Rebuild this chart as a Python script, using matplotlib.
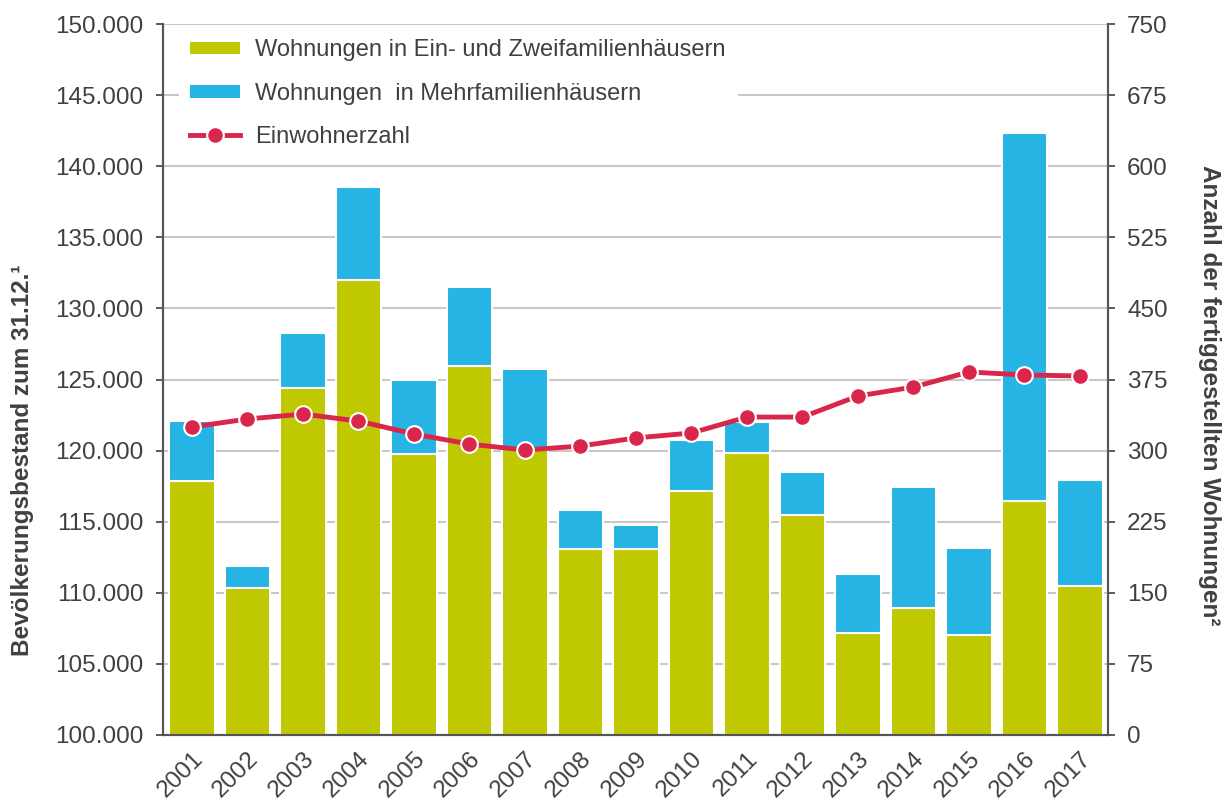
import matplotlib.pyplot as plt
import numpy as np
from matplotlib.lines import Line2D
from matplotlib.patches import Patch

years = [str(y) for y in range(2001, 2018)]
# completed flats in one- and two-family houses (right axis)
ein_zwei = [268, 155, 366, 480, 296, 389, 303, 196, 196, 257, 298, 232, 108, 134, 105, 247, 157]
# completed flats in multi-family houses (stacked on top)
mehr = [63, 23, 58, 98, 78, 84, 83, 41, 26, 54, 32, 45, 62, 128, 92, 388, 112]
# population on 31.12. (left axis)
einwohner = [121660, 122220, 122570, 122080, 121170, 120460, 120040, 120320,
             120890, 121240, 122360, 122360, 123840, 124470, 125530, 125320, 125250]

GREEN = '#BFC800'
BLUE = '#25B4E3'
RED = '#D9264A'
TXT = '#404040'
GRID = '#C8C8C8'

plt.rcParams['font.family'] = ['Liberation Sans', 'DejaVu Sans']
plt.rcParams['text.color'] = TXT
plt.rcParams['axes.labelcolor'] = TXT
plt.rcParams['xtick.color'] = TXT
plt.rcParams['ytick.color'] = TXT

fig = plt.figure(figsize=(12.27, 8.01), dpi=100)
ax = fig.add_axes([0.1328, 0.0824, 0.770, 0.8876])
ax2 = ax.twinx()
x = np.arange(len(years))

# bars on host axis (right-hand scale)
ax.bar(x, ein_zwei, width=0.82, color=GREEN, edgecolor='white', linewidth=1.5, zorder=2)
ax.bar(x, mehr, bottom=ein_zwei, width=0.82, color=BLUE, edgecolor='white', linewidth=1.5, zorder=2)
ax.set_ylim(0, 750)
ax.set_yticks(np.arange(0, 751, 75))
ax.grid(axis='y', color=GRID, linewidth=1.5, zorder=0)
ax.set_axisbelow(True)
ax.set_xlim(-0.52, 16.5)
ax.set_xticks(x)
ax.set_xticklabels(years, rotation=45, ha='right', rotation_mode='anchor', fontsize=17.5)
ax.tick_params(axis='x', length=0, pad=9)

# population line on twin axis (left-hand scale)
ax2.plot(x, einwohner, color=RED, linewidth=3.5, marker='o', markersize=12,
         markerfacecolor=RED, markeredgecolor='white', markeredgewidth=1.5, zorder=3)
ax2.set_ylim(100000, 150000)
ax2.set_yticks(np.arange(100000, 150001, 5000))
ax2.set_yticklabels([f'{v:,}'.replace(',', '.') for v in range(100000, 150001, 5000)])

# swap sides: population scale left, flats scale right
ax.yaxis.tick_right()
ax.yaxis.set_label_position('right')
ax2.yaxis.tick_left()
ax2.yaxis.set_label_position('left')
ax.set_ylabel('Anzahl der fertiggestellten Wohnungen²', fontsize=17.5, fontweight='bold',
              rotation=270)
ax2.set_ylabel('Bevölkerungsbestand zum 31.12.¹', fontsize=17.5, fontweight='bold')
ax.yaxis.set_label_coords(1.108, 0.478)
ax2.yaxis.set_label_coords(-0.149, 0.387)
for lab in (ax.yaxis.label, ax2.yaxis.label):
    lab.set_verticalalignment('center')
    lab.set_horizontalalignment('center')

for a in (ax, ax2):
    a.tick_params(axis='y', labelsize=17.5, length=5, width=1.2, direction='out', pad=9)
    a.spines['top'].set_visible(False)
    for s in ('left', 'right', 'bottom'):
        a.spines[s].set_color('#555555')
        a.spines[s].set_linewidth(1.5)

handles = [Patch(facecolor=GREEN, edgecolor='none'),
           Patch(facecolor=BLUE, edgecolor='none'),
           Line2D([], [], color=RED, linewidth=3.5, marker='o', markersize=12,
                  markerfacecolor=RED, markeredgecolor='white', markeredgewidth=1.5)]
labels = ['Wohnungen in Ein- und Zweifamilienhäusern',
          'Wohnungen  in Mehrfamilienhäusern',
          'Einwohnerzahl']
leg = ax2.legend(handles, labels, loc='upper left', bbox_to_anchor=(0.009, 1.005),
                 frameon=True, fontsize=17, handlelength=2.1, handletextpad=0.65,
                 labelspacing=0.9, borderpad=0.5, borderaxespad=0.3,
                 handleheight=0.45, fancybox=False)
leg.get_frame().set_edgecolor('none')
leg.get_frame().set_facecolor('white')
leg.get_frame().set_alpha(1)

fig.savefig('out.png', dpi=100)
